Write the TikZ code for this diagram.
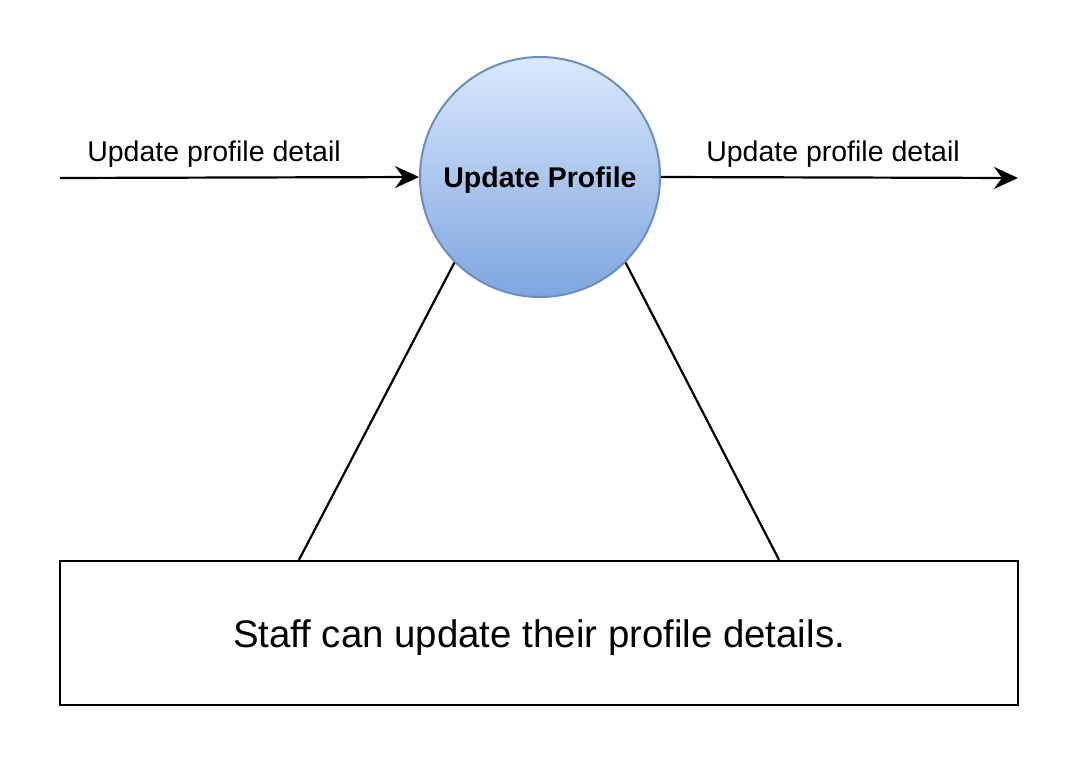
\documentclass[tikz,border=0pt]{standalone}
\usepackage{fontspec}
\setmainfont{Liberation Sans}
\usetikzlibrary{arrows.meta,calc}
\definecolor{procfillTop}{HTML}{DAE8FC}
\definecolor{procfillBot}{HTML}{7EA6E0}
\definecolor{procline}{HTML}{6C8EBF}
\begin{document}
\begin{tikzpicture}[x=1pt,y=-1pt,
  flow/.style={line width=2.2pt,-{Stealth[length=24pt,width=22pt,inset=8pt]}},
  link/.style={line width=2.2pt},
  process/.style={circle,minimum size=240pt,inner sep=0pt,line width=2pt,draw=procline,
    top color=procfillTop,bottom color=procfillBot,text height=24pt,text depth=2.4pt,
    font=\fontsize{28.5}{34}\selectfont\bfseries},
  lbl/.style={font=\fontsize{28.5}{34}\selectfont},
  notebox/.style={draw,line width=2.2pt,minimum width=958pt,minimum height=144pt,inner sep=0pt,
    text height=31pt,text depth=2.6pt,font=\fontsize{38.4}{46}\selectfont}]
\useasboundingbox (0,0) rectangle (1072,772);
\fill[white] (0,0) rectangle (1072,772);
\node[process] (proc) at (540,177) {Update Profile};
\node[notebox] (note) at (539,633) {Staff can update their profile details.};
\coordinate (src) at (60,178);
\coordinate (dst) at (1018,178);
\draw[flow] (src) -- (proc.west);
\draw[flow] (proc.east) -- (dst);
\node[lbl] (inlbl) at (214,154) {Update profile detail};
\node[lbl] (outlbl) at (833,154) {Update profile detail};
\draw[link] (proc.225) -- ($(note.north west)!0.25!(note.north east)$);
\draw[link] (proc.-45) -- ($(note.north west)!0.75!(note.north east)$);
\end{tikzpicture}
\end{document}
